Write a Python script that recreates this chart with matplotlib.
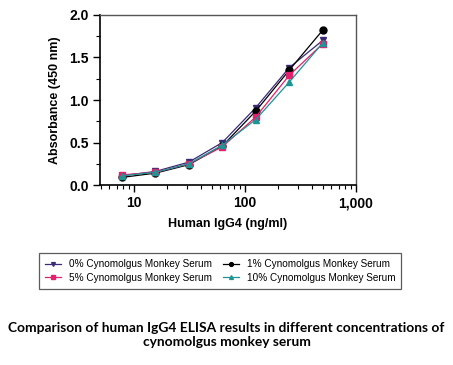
import numpy as np
import matplotlib
matplotlib.use("Agg")
import matplotlib.pyplot as plt
from matplotlib.ticker import FixedLocator, LogLocator, FuncFormatter, MultipleLocator

# === Data ===
conc = [7.8, 15.6, 31.25, 62.5, 125, 250, 500]
serum_0 = [0.11, 0.16, 0.27, 0.50, 0.91, 1.38, 1.70]
serum_1 = [0.09, 0.14, 0.24, 0.46, 0.87, 1.35, 1.82]
serum_5 = [0.12, 0.15, 0.25, 0.45, 0.80, 1.29, 1.66]
serum_10 = [0.11, 0.15, 0.25, 0.47, 0.77, 1.21, 1.67]

labels = ["0% Cynomolgus Monkey Serum", "1% Cynomolgus Monkey Serum",
          "5% Cynomolgus Monkey Serum", "10% Cynomolgus Monkey Serum"]

plt.rcParams['font.family'] = ['Liberation Sans', 'DejaVu Sans']

fig = plt.figure(figsize=(4.53, 3.65), dpi=100)
ax = fig.add_axes([0.2208, 0.493, 0.5652, 0.466])

styles = [
    (serum_0, "v", "#3b2a78"),
    (serum_1, "o", "#000000"),
    (serum_5, "s", "#e5206c"),
    (serum_10, "^", "#1f9494"),
]
handles = []
for (vals, mk, col), lab in zip(styles, labels):
    h, = ax.plot(conc, vals, marker=mk, color=col, lw=0.9, ms=5, label=lab)
    handles.append(h)

ax.set_xscale("log")
ax.set_xlim(4.95, 1000)
ax.set_ylim(0, 2.0)
ax.xaxis.set_major_locator(FixedLocator([10, 100, 1000]))
ax.xaxis.set_minor_locator(LogLocator(base=10, subs=np.arange(2, 10)))
ax.xaxis.set_major_formatter(FuncFormatter(lambda v, p: f"{int(v):,}"))
ax.yaxis.set_major_locator(MultipleLocator(0.5))
ax.yaxis.set_minor_locator(MultipleLocator(0.25))
ax.yaxis.set_major_formatter(FuncFormatter(lambda v, p: f"{v:.1f}"))

ax.tick_params(which="major", direction="out", length=5, width=1, labelsize=10, pad=3)
ax.tick_params(which="minor", direction="out", length=3, width=0.8)
for lab in ax.get_xticklabels() + ax.get_yticklabels():
    lab.set_fontweight("bold")
for side in ["left", "bottom"]:
    ax.spines[side].set_linewidth(1.2)
for side in ["top", "right"]:
    ax.spines[side].set_linewidth(1.0)
    ax.spines[side].set_color("#555555")

ax.set_xlabel("Human IgG4 (ng/ml)", fontsize=9, fontweight="bold", labelpad=6)
ax.set_ylabel("Absorbance (450 nm)", fontsize=9, fontweight="bold", labelpad=6)

# legend with two columns, boxed
leg = fig.legend(handles=[handles[0], handles[2], handles[1], handles[3]],
                 labels=[labels[0], labels[2], labels[1], labels[3]],
                 ncol=2, loc="center", bbox_to_anchor=(0.486, 0.258),
                 fontsize=7.2, frameon=True, fancybox=False, edgecolor="#333333",
                 handlelength=1.6, columnspacing=1.1, handletextpad=0.8,
                 borderpad=0.6, labelspacing=0.35, markerscale=0.55)
leg.get_frame().set_linewidth(0.9)

fig.text(0.5, 0.082, "Comparison of human IgG4 ELISA results in different concentrations of\ncynomolgus monkey serum",
         ha="center", va="center", fontsize=9.9, fontweight="bold", family="Lato", linespacing=1.25)

fig.savefig("out.png", dpi=100)
